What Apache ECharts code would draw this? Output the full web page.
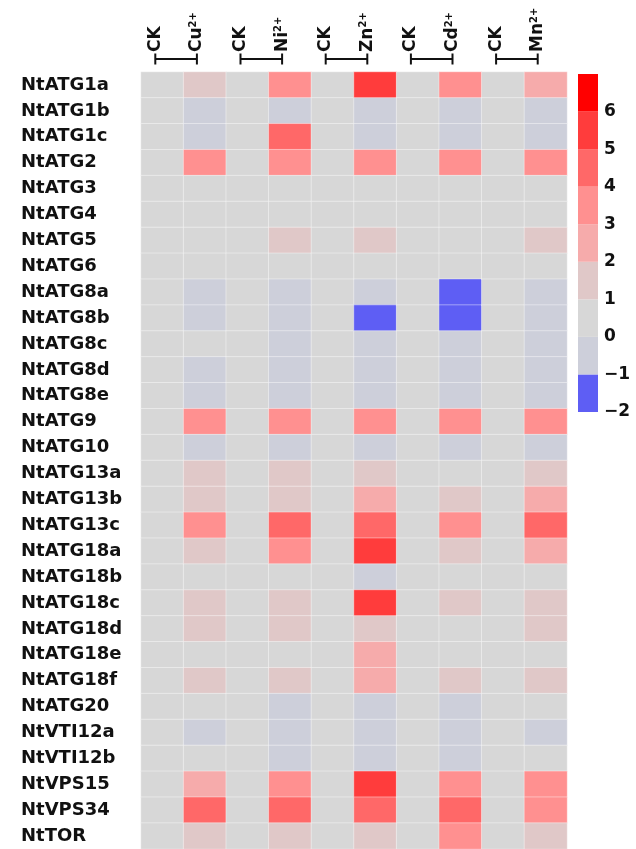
<!DOCTYPE html>
<html>
<head>
<meta charset="utf-8">
<script src="https://cdn.jsdelivr.net/npm/echarts@6/dist/echarts.min.js"></script>
<style>html,body{margin:0;padding:0;background:#fff}#main{width:636px;height:849px}</style>
</head>
<body>
<div id="main"></div>
<script>
// ---- data ----
const genes = ['NtATG1a','NtATG1b','NtATG1c','NtATG2','NtATG3','NtATG4','NtATG5','NtATG6','NtATG8a','NtATG8b','NtATG8c','NtATG8d','NtATG8e','NtATG9','NtATG10','NtATG13a','NtATG13b','NtATG13c','NtATG18a','NtATG18b','NtATG18c','NtATG18d','NtATG18e','NtATG18f','NtATG20','NtVTI12a','NtVTI12b','NtVPS15','NtVPS34','NtTOR'];
const metals = ['Cu','Ni','Zn','Cd','Mn'];
const columns = ['CK','Cu','CK','Ni','CK','Zn','CK','Cd','CK','Mn'];
const ck = [0,0,0,0,0,0,0,0,0,0,0,0,0,0,0,0,0,0,0,0,0,0,0,0,0,0,0,0,0,0];
const cu = [1.4,-0.4,-0.4,3.3,0.2,0.2,0.3,0.2,-0.5,-0.4,0.3,-0.4,-0.5,3.2,-0.5,1.3,1.2,3.1,1.4,0.3,1.3,1.2,0.3,1.3,0.2,-0.4,0.2,2.6,4.3,1.3];
const ni = [3.4,-0.5,4.4,3.2,0.2,0.2,1.3,0.3,-0.5,-0.5,-0.4,-0.5,-0.4,3.3,-0.5,1.3,1.3,4.4,3.2,0.3,1.2,1.3,0.2,1.3,-0.4,-0.4,-0.5,3.3,4.5,1.3];
const zn = [5.5,-0.5,-0.5,3.3,0.2,0.2,1.3,0.2,-0.5,-1.6,-0.5,-0.5,-0.5,3.3,-0.5,1.3,2.5,4.4,5.6,-0.4,5.5,1.2,2.5,2.5,-0.5,-0.5,-0.5,5.6,4.4,1.3];
const cd = [3.3,-0.5,-0.5,3.3,0.2,0.2,0.3,0.2,-1.6,-1.6,-0.5,-0.5,-0.5,3.3,-0.5,0.3,1.3,3.3,1.3,0.2,1.3,0.3,0.2,1.3,-0.5,-0.5,-0.5,3.3,4.5,3.3];
const mn = [2.5,-0.5,-0.5,3.3,0.2,0.2,1.3,0.2,-0.5,-0.5,-0.5,-0.5,-0.5,3.3,-0.5,1.3,2.5,4.4,2.5,0.2,1.3,1.3,0.2,1.3,0.2,-0.5,0.2,3.3,3.3,1.3];
const columnValues = [ck, cu, ck, ni, ck, zn, ck, cd, ck, mn];
const binLows = [-2,-1,0,1,2,3,4,5,6];
const binColors = ['#5e5ef4','#cdcfda','#d7d7d7','#e0c8c8','#f6abab','#ff9090','#ff6868','#ff3c3c','#ff0000'];

// ---- build ----
const heatData = [];
columnValues.forEach((arr, c) => arr.forEach((v, r) => heatData.push([c, r, v])));
const pieces = binLows.map((lo, i) => i === binLows.length - 1
  ? {gte: lo, lte: lo + 1, color: binColors[i]}
  : {gte: lo, lt: lo + 1, color: binColors[i]});
const FONT = 'DejaVu Sans';
const INK = '#111';

const chart = echarts.init(document.getElementById('main'));
chart.setOption({
  backgroundColor: '#fff',
  animation: false,
  grid: [
    {left: 141, right: 69, top: 72, bottom: 0},
    {left: 578, width: 20, top: 74, height: 338}
  ],
  xAxis: [
    {type: 'category', data: columns, gridIndex: 0, position: 'top',
     axisLine: {show: false}, axisTick: {show: false}, axisLabel: {show: false}, splitLine: {show: false}},
    {type: 'category', data: ['s'], gridIndex: 1, show: false}
  ],
  yAxis: [
    {type: 'category', data: genes, gridIndex: 0, inverse: true,
     axisLine: {show: false}, axisTick: {show: false}, splitLine: {show: false},
     axisLabel: {align: 'left', margin: 120, fontFamily: FONT, fontWeight: 'bold', fontSize: 18, color: INK,
       padding: [0, 0, 7, 0]}},
    {type: 'value', gridIndex: 1, min: -2, max: 7, interval: 1, position: 'right',
     axisLine: {show: false}, axisTick: {show: false}, splitLine: {show: false},
     axisLabel: {margin: 6, fontFamily: FONT, fontWeight: 'bold', fontSize: 17, color: INK, padding: [0, 0, 6, 0],
       formatter: v => v >= 7 ? '' : (v < 0 ? '\u2212' + Math.abs(v) : String(v))}}
  ],
  visualMap: {type: 'piecewise', show: false, seriesIndex: 0, dimension: 2, pieces: pieces},
  series: [
    {type: 'heatmap', xAxisIndex: 0, yAxisIndex: 0, data: heatData,
     itemStyle: {borderColor: 'rgba(255,255,255,0.4)', borderWidth: 1}},
    {type: 'custom', xAxisIndex: 1, yAxisIndex: 1, data: binLows.map((lo, i) => [0, lo, i]),
     renderItem: function (params, api) {
       const lo = api.value(1);
       const top = api.coord([0, lo + 1]);
       const bot = api.coord([0, lo]);
       const w = api.size([1, 0])[0];
       return {type: 'rect', shape: {x: top[0] - w / 2, y: top[1], width: w, height: bot[1] - top[1]},
         style: {fill: binColors[api.value(2)]}};
     }}
  ]
});

// ---- top labels with brackets ----
const g = [];
metals.forEach((m, i) => {
  const xa = chart.convertToPixel({xAxisIndex: 0}, 2 * i) - 7;
  const xb = chart.convertToPixel({xAxisIndex: 0}, 2 * i + 1) - 8;
  const yLine = 59;
  const st = {stroke: INK, lineWidth: 2};
  g.push({type: 'line', shape: {x1: xa, y1: yLine, x2: xb, y2: yLine}, style: st});
  g.push({type: 'line', shape: {x1: xa, y1: yLine - 5.5, x2: xa, y2: yLine + 5.5}, style: st});
  g.push({type: 'line', shape: {x1: xb, y1: yLine - 5.5, x2: xb, y2: yLine + 5.5}, style: st});
  g.push({type: 'text', x: xa, y: yLine - 7, rotation: Math.PI / 2,
    style: {text: columns[2 * i], font: 'bold 17px ' + FONT, fill: INK, align: 'left', verticalAlign: 'middle'}});
  g.push({type: 'text', x: xb, y: yLine - 7, rotation: Math.PI / 2,
    style: {text: '{b|' + m + '}{s|2+}', align: 'left', verticalAlign: 'middle', fill: INK,
      rich: {b: {font: 'bold 17px ' + FONT, fill: INK},
             s: {font: 'bold 10px ' + FONT, fill: INK, verticalAlign: 'top'}}}});
});
chart.setOption({graphic: g});
</script>
</body>
</html>
